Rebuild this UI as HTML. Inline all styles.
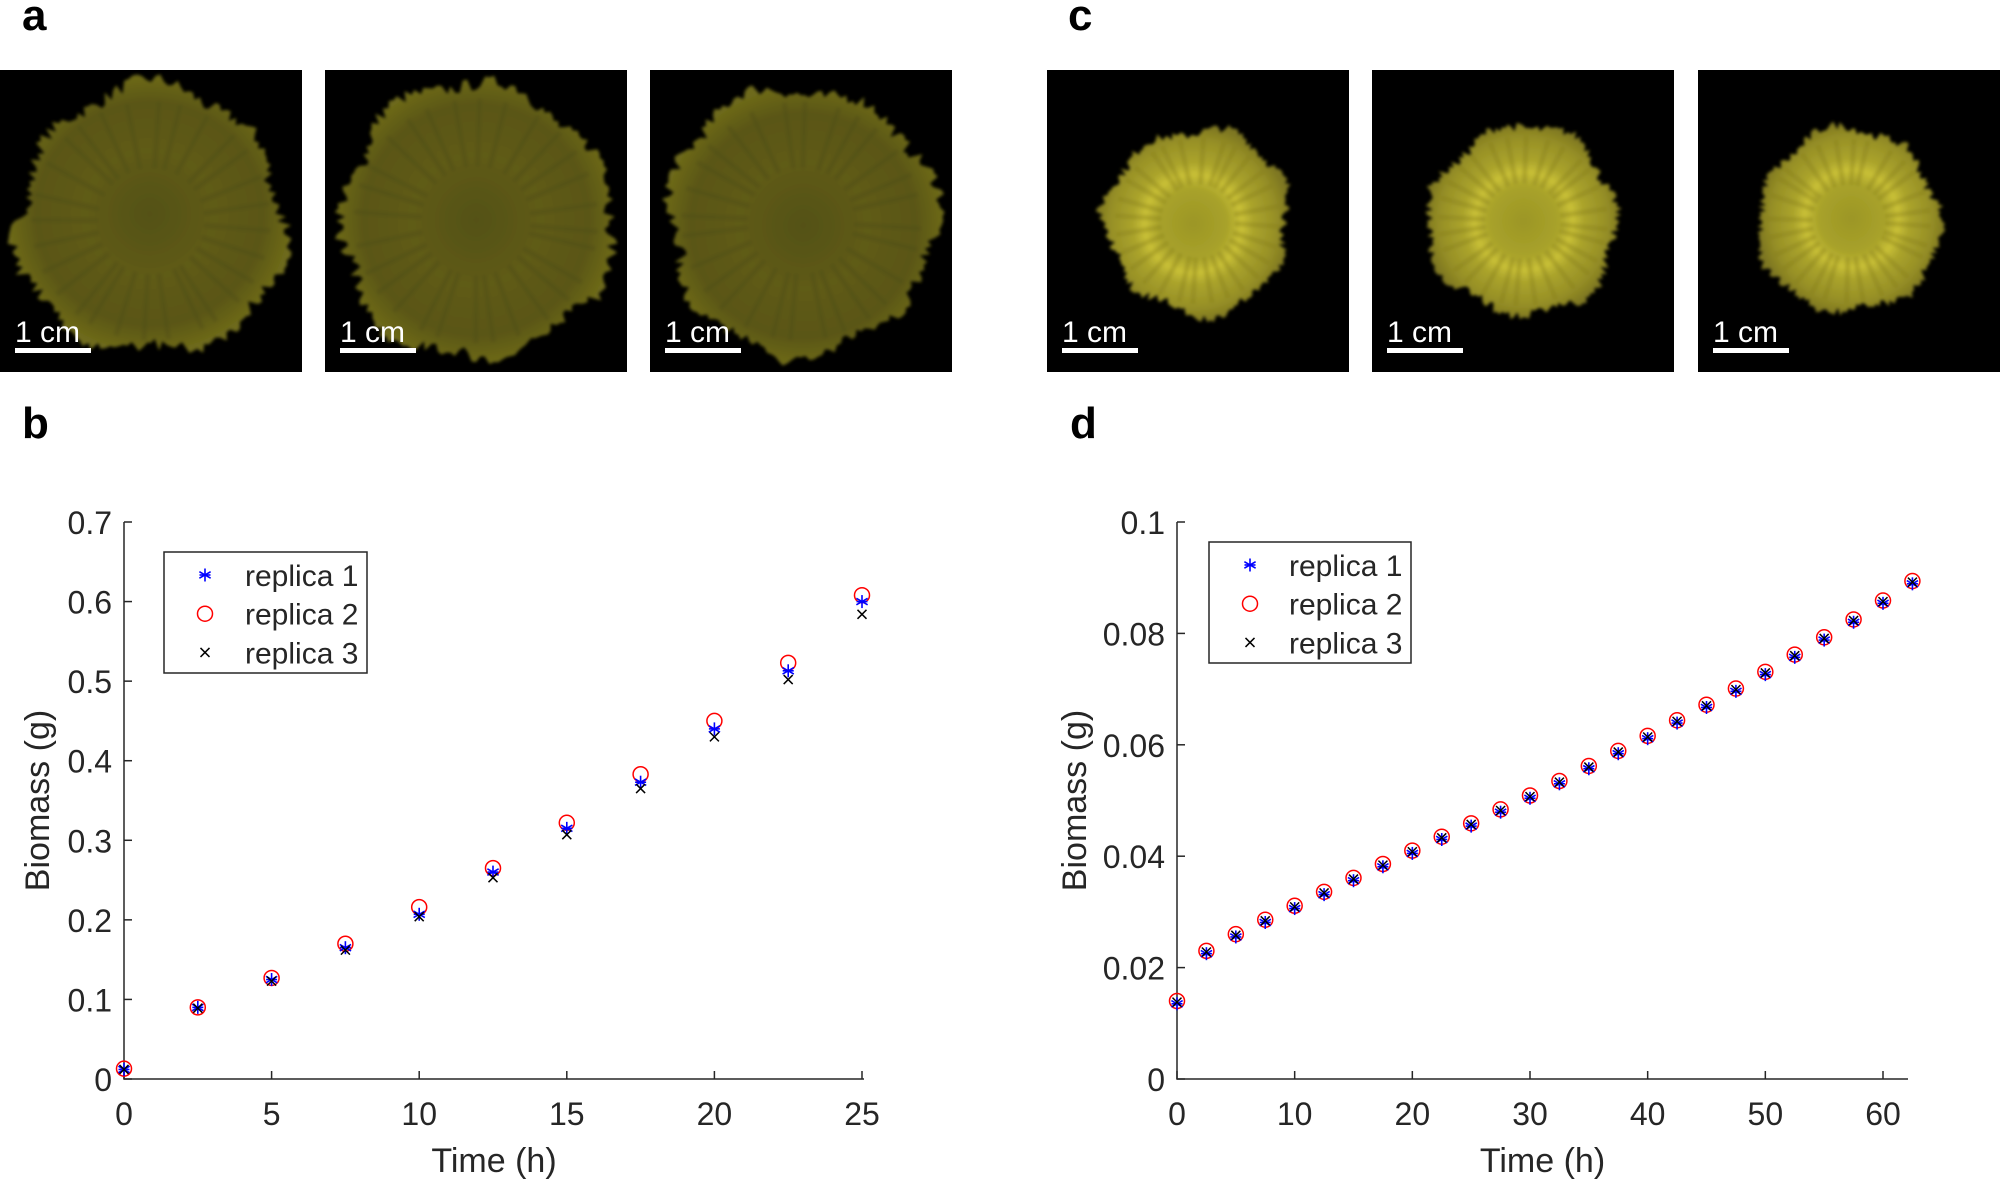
<!DOCTYPE html>
<html><head><meta charset="utf-8"><style>
html,body{margin:0;padding:0;background:#fff;}
svg{display:block;font-family:"Liberation Sans",Arial,sans-serif;}
</style></head><body>
<svg id="s" xmlns="http://www.w3.org/2000/svg" width="2000" height="1181" viewBox="0 0 2000 1181">
<defs>
<radialGradient id="ga" cx="50%" cy="50%" r="50%">
<stop offset="0" stop-color="#545112"/><stop offset="0.45" stop-color="#5f5b15"/><stop offset="0.8" stop-color="#5a5614"/><stop offset="1" stop-color="#6e6a1a"/>
</radialGradient>
<radialGradient id="gc" cx="50%" cy="50%" r="50%">
<stop offset="0" stop-color="#9c9626"/><stop offset="0.35" stop-color="#a8a22a"/><stop offset="0.5" stop-color="#c9c036"/><stop offset="0.62" stop-color="#aba42c"/><stop offset="0.85" stop-color="#968f26"/><stop offset="1" stop-color="#7e7720"/>
</radialGradient>
<filter id="bl"><feGaussianBlur stdDeviation="1.5"/></filter>
</defs>
<g font-weight="bold" font-size="44" fill="#000">
<text x="22" y="30">a</text><text x="22" y="438">b</text>
<text x="1068" y="30">c</text><text x="1070" y="438">d</text>
</g>
<g id="imgs"></g>
<g id="plots" font-size="32" fill="#262626"></g>
</svg>
<script>
const NS="http://www.w3.org/2000/svg";
const S=document.getElementById('s');
function el(t,a,p){const e=document.createElementNS(NS,t);for(const k in a)e.setAttribute(k,a[k]);(p||S).appendChild(e);return e;}
let seed=7;function rnd(){seed=(seed*16807)%2147483647;return seed/2147483647;}
const imgs=document.getElementById('imgs');
let pid=0;
function panel(x,R,grad,ring){
  pid++;
  const cp=el('clipPath',{id:'cp'+pid},imgs);el('rect',{x:x,y:70,width:302,height:302},cp);
  el('rect',{x:x,y:70,width:302,height:302,fill:'#000'},imgs);
  const g=el('g',{'clip-path':'url(#cp'+pid+')'},imgs);
  const g2=el('g',{filter:'url(#bl)'},g);
  const cx=x+151,cy=221;let pts=[];const N=200;
  for(let i=0;i<N;i++){const a=i/N*Math.PI*2;let r=R*(1+0.04*Math.sin(a*7+x)+0.03*Math.sin(a*3+x*0.1))+(rnd()-0.5)*R*0.1;
    pts.push((cx+r*Math.cos(a)).toFixed(1)+','+(cy+r*Math.sin(a)).toFixed(1));}
  el('polygon',{points:pts.join(' '),fill:'url(#'+grad+')'},g2);
  for(let i=0;i<28;i++){const a=i/28*Math.PI*2+rnd()*0.1;
    el('line',{x1:cx+R*0.4*Math.cos(a),y1:cy+R*0.4*Math.sin(a),x2:cx+R*0.9*Math.cos(a),y2:cy+R*0.9*Math.sin(a),stroke:ring?'#847c1e':'#4e4b10','stroke-width':5,opacity:0.35},g2);}
  el('text',{x:x+15,y:342,'font-size':30,fill:'#fff'},imgs).textContent='1 cm';
  el('rect',{x:x+15,y:348,width:76,height:5,fill:'#fff'},imgs);
}
panel(0,133,'ga');panel(325,136,'ga');panel(650,133,'ga');
panel(1047,92,'gc',1);panel(1372,94,'gc',1);panel(1698,91,'gc',1);
const P=document.getElementById('plots');
function star(x,y){const s=6.5;for(const a of [0,60,120]){const r=a*Math.PI/180;el('line',{x1:x-s*Math.sin(r),y1:y-s*Math.cos(r),x2:x+s*Math.sin(r),y2:y+s*Math.cos(r),stroke:'#0000ff','stroke-width':1.6},P);}
 el('line',{x1:x-5.5,y1:y,x2:x+5.5,y2:y,stroke:'#0000ff','stroke-width':1.6},P);}
function circ(x,y){el('circle',{cx:x,cy:y,r:7.5,fill:'none',stroke:'#ff0000','stroke-width':1.5},P);}
function cross(x,y){const s=4.5;el('path',{d:`M${x-s} ${y-s}L${x+s} ${y+s}M${x-s} ${y+s}L${x+s} ${y-s}`,stroke:'#000','stroke-width':1.5},P);}
function plot(o){
  const X=v=>o.x0+(v-o.xmin)*(o.x1-o.x0)/(o.xmax-o.xmin);
  const Y=v=>o.y0-(v)*(o.y0-o.y1)/o.ymax;
  el('path',{d:`M${o.x0} ${o.y1}V${o.y0}H${o.xend}`,fill:'none',stroke:'#262626','stroke-width':1.5},P);
  o.yt.forEach(v=>{const y=Y(v);el('line',{x1:o.x0,y1:y,x2:o.x0+8,y2:y,stroke:'#262626','stroke-width':1.5},P);
    el('text',{x:o.x0-12,y:y+12,'text-anchor':'end'},P).textContent=o.yf(v);});
  o.xt.forEach(v=>{const x=X(v);el('line',{x1:x,y1:o.y0,x2:x,y2:o.y0-8,stroke:'#262626','stroke-width':1.5},P);
    el('text',{x:x,y:o.y0+46,'text-anchor':'middle'},P).textContent=v;});
  el('text',{x:(o.x0+o.xend)/2,y:1172,'text-anchor':'middle','font-size':34},P).textContent='Time (h)';
  const t=el('text',{x:0,y:0,'text-anchor':'middle','font-size':34,transform:`translate(${o.lx},${(o.y0+o.y1)/2}) rotate(-90)`},P);t.textContent='Biomass (g)';
  const n=o.r1.length;
  for(let i=0;i<n;i++){const x=X(i*2.5);circ(x,Y(o.r2[i]));star(x,Y(o.r1[i]));cross(x,Y(o.r3[i]));}
  const L=o.leg;el('rect',{x:L.x,y:L.y,width:L.w,height:L.h,fill:'#fff',stroke:'#262626','stroke-width':1.5},P);
  const ys=[L.y+L.h*0.19,L.y+L.h*0.51,L.y+L.h*0.83];
  star(L.mx,ys[0]);circ(L.mx,ys[1]);cross(L.mx,ys[2]);
  ['replica 1','replica 2','replica 3'].forEach((s,i)=>{el('text',{x:L.tx,y:ys[i]+11,'font-size':30},P).textContent=s;});
}
plot({x0:124,x1:862,xmin:0,xmax:25,xend:864,y0:1079,y1:522,ymax:0.7,lx:49,
 yt:[0,0.1,0.2,0.3,0.4,0.5,0.6,0.7],yf:v=>v===0?'0':v.toFixed(1),xt:[0,5,10,15,20,25],
 r1:[0.012,0.09,0.125,0.165,0.207,0.26,0.315,0.373,0.44,0.513,0.6],
 r2:[0.013,0.09,0.127,0.17,0.216,0.265,0.322,0.383,0.45,0.523,0.608],
 r3:[0.012,0.089,0.123,0.162,0.204,0.253,0.307,0.365,0.43,0.502,0.584],
 leg:{x:164,y:552,w:203,h:121,mx:205,tx:245}});
const d=[0.0138,0.0228,0.0258,0.0284,0.0309,0.0334,0.0359,0.0384,0.0408,0.0433,0.0457,0.0482,0.0507,0.0533,0.0560,0.0587,0.0614,0.0642,0.0670,0.0699,0.0729,0.0760,0.0791,0.0823,0.0857,0.0892];
plot({x0:1177,x1:1883,xmin:0,xmax:60,xend:1908,y0:1079,y1:522,ymax:0.1,lx:1086,
 yt:[0,0.02,0.04,0.06,0.08,0.1],yf:v=>v===0?'0':(v===0.1?'0.1':v.toFixed(2)),xt:[0,10,20,30,40,50,60],
 r1:d.map(v=>v-0.0003),r2:d.map(v=>v+0.0002),r3:d,
 leg:{x:1209,y:542,w:202,h:121,mx:1250,tx:1289}});
</script>
</body></html>
